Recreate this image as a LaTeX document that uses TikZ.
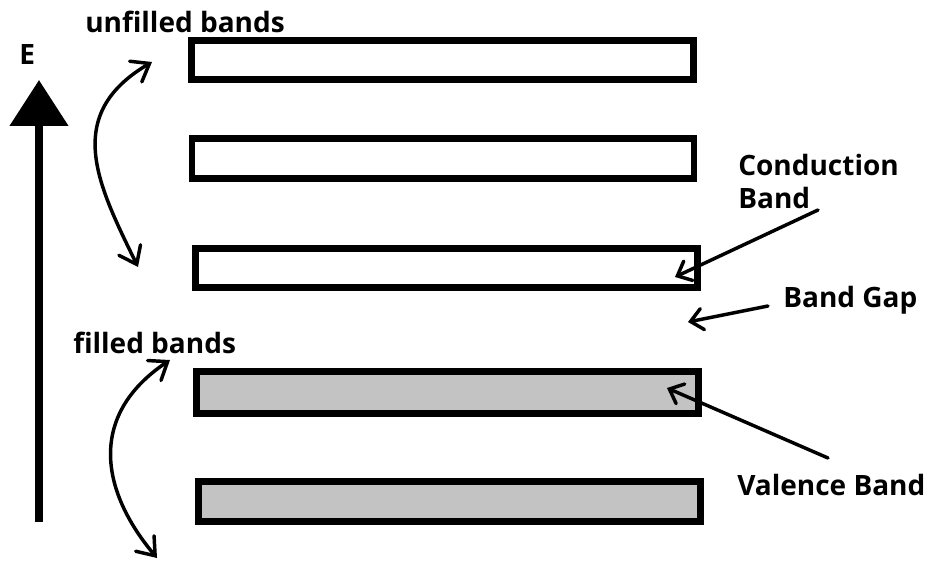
\documentclass[tikz,border=0pt]{standalone}
\usepackage{fontspec}
\setmainfont{Open Sans}
\usetikzlibrary{arrows.meta}
\definecolor{bandgray}{RGB}{195,195,195}
\begin{document}
\begin{tikzpicture}[x=0.75pt,y=-0.75pt,
  band/.style={draw=black, line width=5.2pt, inner sep=0pt, outer sep=0pt, minimum width=376.5pt},
  filledband/.style={band, fill=bandgray},
  lbl/.style={font=\bfseries\fontsize{21}{24.75}\selectfont, inner sep=0pt, anchor=base west, align=left},
  pointer/.style={line width=2.6pt, line cap=round, -{Straight Barb[length=9pt,width=16pt,line cap=round]}},
  dbl/.style={line width=2.6pt, line cap=round, {Straight Barb[length=12pt,width=18pt,line cap=round]}-{Straight Barb[length=12pt,width=18pt,line cap=round]}},
  eaxis/.style={line width=6pt, -{Triangle[length=34.5pt,width=42.75pt]}}]
\useasboundingbox (0,0) rectangle (930,563);
% bands
\node[band, minimum height=29.25pt] (b1) at (442.5,60) {};
\node[band, minimum height=30pt] (b2) at (443,158.5) {};
\node[band, minimum height=29.25pt] (b3) at (446.5,268) {};
\node[filledband, minimum height=31.5pt] (b4) at (447.5,392.5) {};
\node[filledband, minimum height=30pt] (b5) at (449.5,501.5) {};
% energy axis
\coordinate (Ebot) at (39,522);
\coordinate (Etop) at (39,80);
\draw[eaxis] (Ebot) -- (Etop);
\node[lbl] (E) at (19,65) {E};
% labels
\node[lbl] (unf) at (85,33) {unfilled bands};
\node[lbl] (fil) at (73,353) {filled bands};
\node[lbl] (cond) at (738,208) {Conduction\\Band};
\node[lbl] (gap) at (783,307) {Band Gap};
\node[lbl] (val) at (737,495) {Valence Band};
% pointer arrows
\coordinate (cbS) at (818,210);
\coordinate (cbT) at (675,277);
\coordinate (bgS) at (768,306);
\coordinate (bgT) at (688,322);
\coordinate (vbS) at (828,458);
\coordinate (vbT) at (667,388);
\draw[pointer] (cbS) -- (cbT);
\draw[pointer] (bgS) -- (bgT);
\draw[pointer] (vbS) -- (vbT);
% curved double arrows
\coordinate (uTop) at (152,62);
\coordinate (uBot) at (138,267);
\coordinate (fTop) at (170,360);
\coordinate (fBot) at (157,558);
\draw[dbl] (uBot) .. controls (98,185) and (62,115) .. (uTop);
\draw[dbl] (fBot) .. controls (100,490) and (88,415) .. (fTop);
\end{tikzpicture}
\end{document}
